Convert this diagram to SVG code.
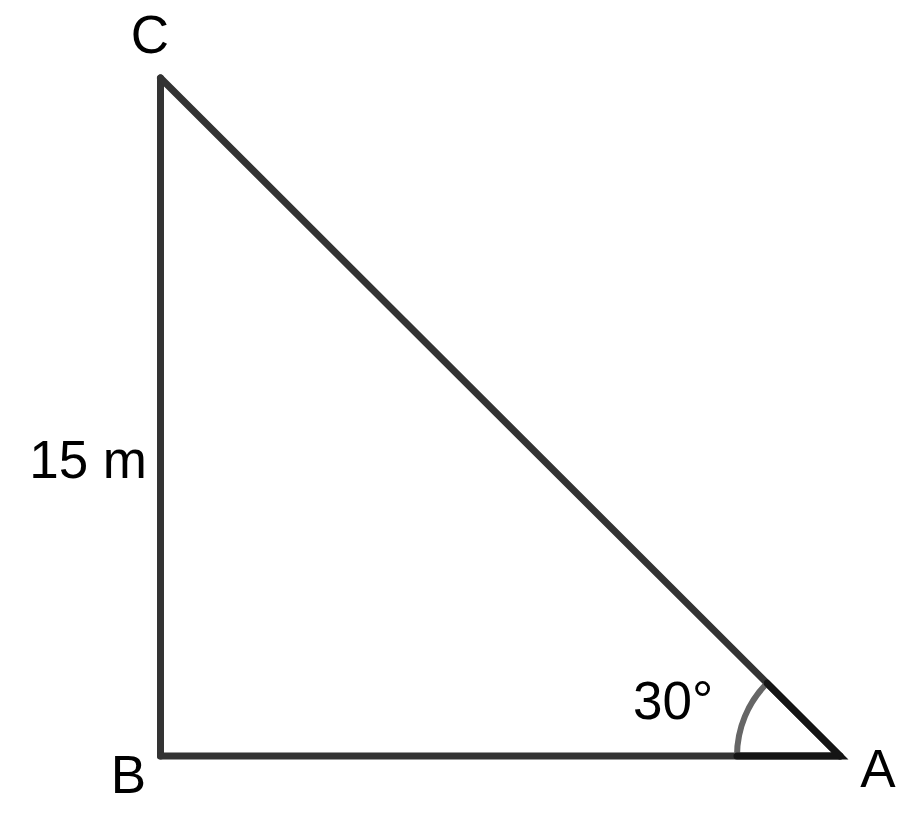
<svg xmlns="http://www.w3.org/2000/svg" width="913" height="814" viewBox="0 0 913 814">
<style>
.side{stroke:#333;stroke-width:7;stroke-linecap:round;fill:none}
.inner{stroke:#151515;stroke-width:7;stroke-linecap:round;fill:none}
.arc{stroke:#666;stroke-width:6;fill:none}
.lbl{font-family:"Liberation Sans",Arial,sans-serif;font-size:53px;fill:#000}
</style>
<rect width="913" height="814" fill="#fff"/>
<g id="connectors">
<line class="side" x1="160.5" y1="78" x2="160.5" y2="756"/>
<line class="side" x1="160.5" y1="756" x2="840" y2="756"/>
<line class="side" x1="160.5" y1="78" x2="840" y2="756"/>
</g>
<g id="angle-A">
<path class="arc" d="M737,756 A103,103 0 0 1 767.1,683.2"/>
<path class="inner" d="M737,756 L840,756 L767.1,683.2"/>
</g>
<g id="node-C"><text class="lbl" x="150" y="53" text-anchor="middle">C</text></g>
<g id="node-B"><text class="lbl" x="128.5" y="793" text-anchor="middle">B</text></g>
<g id="node-A"><text class="lbl" x="878" y="787" text-anchor="middle">A</text></g>
<g id="label-side"><text class="lbl" x="147" y="478" text-anchor="end">15 m</text></g>
<g id="label-angle"><text class="lbl" x="633" y="719">30°</text></g>
</svg>
